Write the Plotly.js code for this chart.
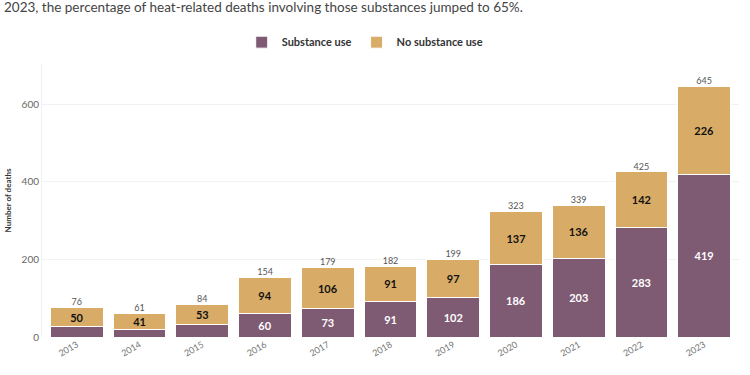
<!DOCTYPE html>
<html>
<head>
<meta charset="utf-8">
<script src="https://cdn.plot.ly/plotly-3.0.1.min.js"></script>
<style>html,body{margin:0;padding:0;background:#fff;}#chart{width:750px;height:375px;}</style>
</head>
<body>
<div id="chart"></div>
<script>
const years = ['2013','2014','2015','2016','2017','2018','2019','2020','2021','2022','2023'];
const substanceUse = [26, 20, 31, 60, 73, 91, 102, 186, 203, 283, 419];
const noSubstanceUse = [50, 41, 53, 94, 106, 91, 97, 137, 136, 142, 226];
const totals = [76, 61, 84, 154, 179, 182, 199, 323, 339, 425, 645];
const yTicks = [0, 200, 400, 600];

const FONT = 'Lato, "Open Sans", sans-serif';
const purple = '#7e5a73';
const gold = '#d8ac67';

const substanceText = substanceUse.map(v => v >= 50 ? String(v) : '');

const traces = [
  {
    type: 'bar', name: 'Substance use', x: years, y: substanceUse,
    marker: {color: purple, line: {color: '#ffffff', width: 1}},
    text: substanceText, textposition: 'inside', insidetextanchor: 'middle',
    textangle: 0, constraintext: 'none',
    textfont: {family: FONT, size: 11, color: '#ffffff', weight: 'bold'},
    hoverinfo: 'x+y'
  },
  {
    type: 'bar', name: 'No substance use', x: years, y: noSubstanceUse,
    marker: {color: gold, line: {color: '#ffffff', width: 1}},
    text: noSubstanceUse.map(String), textposition: 'inside', insidetextanchor: 'middle',
    textangle: 0, constraintext: 'none',
    textfont: {family: FONT, size: 11, color: '#111111', weight: 'bold'},
    hoverinfo: 'x+y'
  },
  {
    type: 'scatter', mode: 'text', x: years, y: totals,
    text: totals.map(String), textposition: 'top center',
    textfont: {family: FONT, size: 9, color: '#555555'},
    showlegend: false, hoverinfo: 'skip'
  }
];

const layout = {
  width: 750, height: 375,
  margin: {l: 42, r: 11, t: 64, b: 38},
  paper_bgcolor: '#ffffff', plot_bgcolor: '#ffffff',
  barmode: 'stack', bargap: 0.16,
  font: {family: FONT, color: '#555555'},
  showlegend: true,
  legend: {
    orientation: 'h', x: 0.463, xanchor: 'center', y: 1.08, yanchor: 'middle',
    font: {family: FONT, size: 11, color: '#333333', weight: 'bold'},
    traceorder: 'normal', itemwidth: 30
  },
  xaxis: {
    type: 'category', tickangle: -30, showgrid: false, zeroline: false,
    tickfont: {family: FONT, size: 9, color: '#777777'},
    showline: false, ticks: ''
  },
  yaxis: {
    range: [0, 703], tickvals: yTicks, ticktext: yTicks.map(String),
    showgrid: true, gridcolor: '#f2f2f2', gridwidth: 1,
    zeroline: false, showline: true, linecolor: '#f0f0f0',
    tickfont: {family: FONT, size: 10, color: '#666666'},
    ticks: '',
    title: {text: 'Number of deaths', font: {family: FONT, size: 8, color: '#333333', weight: 'bold'}, standoff: 8}
  },
  annotations: [
    {
      xref: 'paper', yref: 'paper', x: -0.058, y: 1.208, xanchor: 'left', yanchor: 'middle',
      text: '2023, the percentage of heat-related deaths involving those substances jumped to 65%.',
      showarrow: false, font: {family: FONT, size: 13.5, color: '#444444'}
    }
  ]
};

Plotly.newPlot('chart', traces, layout, {displayModeBar: false, staticPlot: true});
</script>
</body>
</html>
